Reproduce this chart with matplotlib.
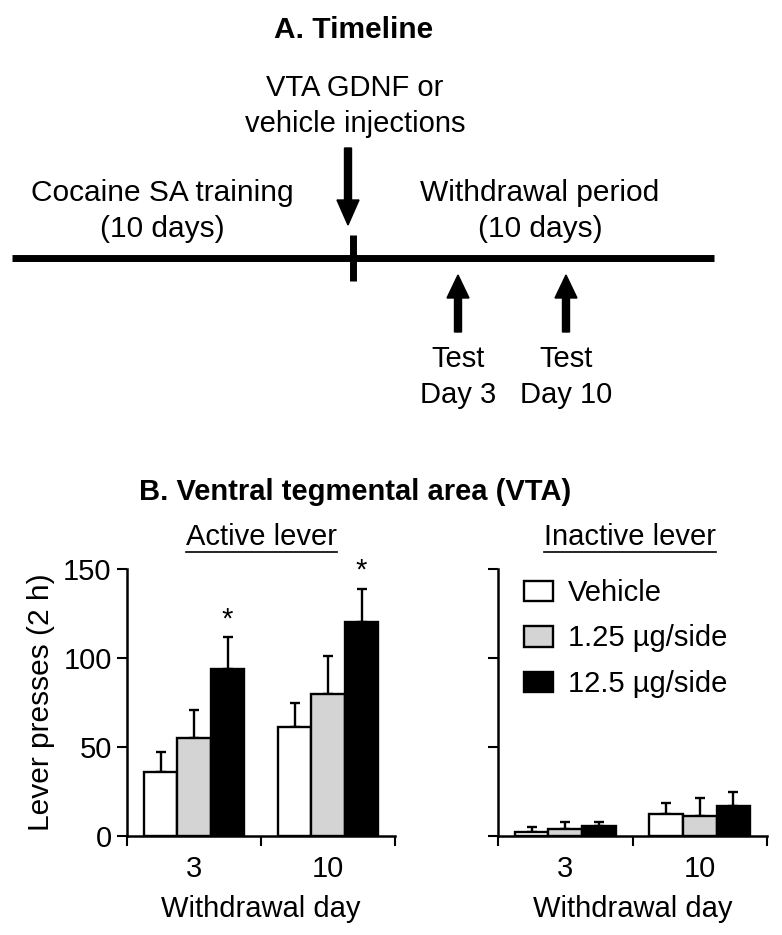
"""
GDNF in VTA: timeline + lever presses after withdrawal.
"""

import matplotlib
matplotlib.use("Agg")
import matplotlib.pyplot as plt
import numpy as np
from matplotlib.patches import Patch

plt.rcParams["font.family"] = ["Liberation Sans", "DejaVu Sans"]

# ---- data -------------------------------------------------------------
days = ["3", "10"]
groups = ["Vehicle", "1.25 \u00b5g/side", "12.5 \u00b5g/side"]
colors = ["white", "#d4d4d4", "black"]

active_mean = [[36, 55, 94], [61, 80, 120]]   # [day][group]
active_sem = [[11, 16, 18], [14, 21, 19]]
inactive_mean = [[2, 4, 5.5], [12.5, 11.5, 17]]
inactive_sem = [[3, 4, 2.5], [6, 10, 7.5]]
active_sig = [[False, False, True], [False, False, True]]

# timeline layout (figure pixels)
line_x = [12, 714]
line_y = 258
inject_x = 353
test_x = [458, 566]
test_labels = ["Test\nDay 3", "Test\nDay 10"]

fig = plt.figure(figsize=(7.82, 9.35), dpi=100)

# overlay in pixel units for the timeline part
ov = fig.add_axes([0, 0, 1, 1])
ov.set_xlim(0, 782)
ov.set_ylim(935, 0)
ov.axis("off")

fs = 21
ls = 1.32
ov.text(354, 30, "A. Timeline", ha="center", va="center", fontsize=21.5, fontweight="bold")
ov.text(355, 106, "VTA GDNF or\nvehicle injections", ha="center", va="center",
        fontsize=fs, linespacing=ls)
ov.text(162, 211, "Cocaine SA training\n(10 days)", ha="center", va="center",
        fontsize=21.5, linespacing=ls)
ov.text(540, 211, "Withdrawal period\n(10 days)", ha="center", va="center",
        fontsize=21.5, linespacing=ls)

ov.plot(line_x, [line_y, line_y], color="black", lw=5, solid_capstyle="butt")
ov.plot([inject_x, inject_x], [235, 281], color="black", lw=5, solid_capstyle="butt")
ov.arrow(348, 148, 0, 77, width=7, head_width=22, head_length=25,
         length_includes_head=True, color="black")
for x, lab in zip(test_x, test_labels):
    ov.arrow(x, 332, 0, -57, width=7, head_width=22, head_length=23,
             length_includes_head=True, color="black")
    ov.text(x, 377, lab, ha="center", va="center", fontsize=fs, linespacing=ls)

ov.text(355, 492, "B. Ventral tegmental area (VTA)", ha="center", va="center",
        fontsize=fs, fontweight="bold")
t_act = ov.text(262, 537, "Active lever", ha="center", va="center", fontsize=fs)
t_inact = ov.text(630, 537, "Inactive lever", ha="center", va="center", fontsize=fs)

# ---- bar panels -------------------------------------------------------
ax1 = fig.add_axes([127 / 782, 1 - 836 / 935, 268 / 782, 267 / 935])
ax2 = fig.add_axes([498 / 782, 1 - 836 / 935, 269 / 782, 267 / 935])

width = 0.25
xpos = np.arange(len(days))
for ax, mean, sem in [(ax1, active_mean, active_sem), (ax2, inactive_mean, inactive_sem)]:
    mean = np.array(mean)
    sem = np.array(sem)
    for g in range(len(groups)):
        xs = xpos + (g - 1) * width
        ax.bar(xs, mean[:, g], width, color=colors[g], edgecolor="black",
               linewidth=1.7, label=groups[g], zorder=2)
        ax.errorbar(xs, mean[:, g], yerr=[np.zeros(len(days)), sem[:, g]],
                    fmt="none", ecolor="black", elinewidth=1.7, capsize=3.5,
                    capthick=1.7, zorder=1)
    ax.set_xlim(-0.5, 1.5)
    ax.set_ylim(0, 150)
    ax.set_yticks([0, 50, 100, 150])
    ax.set_xticks([-0.5, 0.5, 1.5])
    ax.set_xticklabels([])
    ax.set_xticks(xpos, minor=True)
    ax.set_xticklabels(days, minor=True, fontsize=fs)
    ax.tick_params(axis="x", which="minor", length=0, pad=14)
    ax.tick_params(axis="x", which="major", length=7, width=1.5, direction="out")
    ax.tick_params(axis="y", length=7, width=1.5, labelsize=fs, pad=4)
    for s in ["top", "right"]:
        ax.spines[s].set_visible(False)
    for s in ["left", "bottom"]:
        ax.spines[s].set_linewidth(1.8)
    ax.set_xlabel("Withdrawal day", fontsize=fs, labelpad=8)

ax1.set_ylabel("Lever presses (2 h)", fontsize=21.5, labelpad=6)
ax2.set_yticklabels([])

# significance stars
am = np.array(active_mean)
ae = np.array(active_sem)
for d in range(len(days)):
    for g in range(len(groups)):
        if active_sig[d][g]:
            ax1.text(xpos[d] + (g - 1) * width, am[d, g] + ae[d, g] + 2, "*",
                     ha="center", va="bottom", fontsize=fs)

handles = [Patch(facecolor=c, edgecolor="black", linewidth=1.7) for c in colors]
ax2.legend(handles, groups, loc="upper left", frameon=False, fontsize=fs,
           bbox_to_anchor=((524 - 498) / 269, 1 - (579 - 569) / 267),
           borderaxespad=0, borderpad=0, handlelength=1.0, handleheight=0.7,
           handletextpad=0.5, labelspacing=0.6)

# underline the lever titles
fig.canvas.draw()
inv = ov.transData.inverted()
for t in (t_act, t_inact):
    bb = t.get_window_extent()
    (x0, y0), (x1, _) = inv.transform([[bb.x0, bb.y0], [bb.x1, bb.y1]])
    ov.plot([x0, x1], [y0 + 1, y0 + 1], color="black", lw=1.2)

fig.savefig("out.png", dpi=100)
